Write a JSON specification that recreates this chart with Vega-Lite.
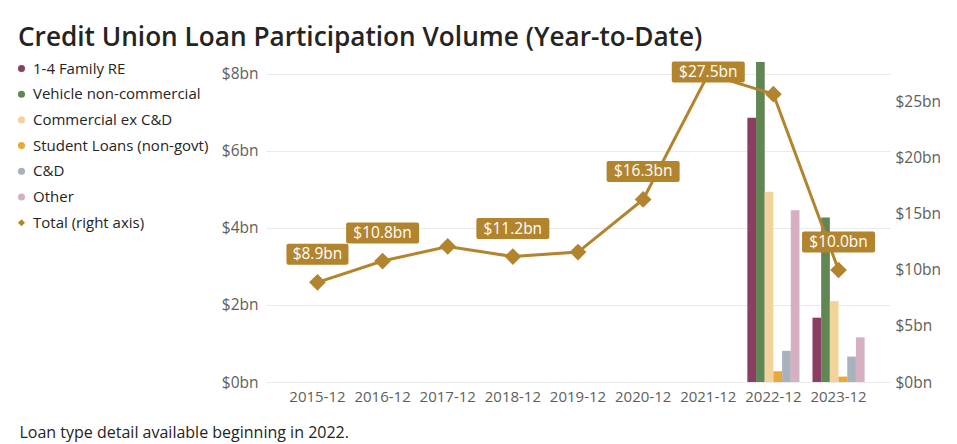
{
  "$schema": "https://vega.github.io/schema/vega-lite/v6.json",
  "width": 624,
  "height": 320,
  "autosize": {"type": "none"},
  "padding": {"left": 266, "top": 62, "right": 67, "bottom": 62},
  "background": "white",
  "title": {
    "text": "Credit Union Loan Participation Volume (Year-to-Date)",
    "anchor": "start",
    "frame": "group",
    "dx": -248,
    "dy": -2,
    "fontSize": 26.2,
    "fontWeight": 600,
    "font": "Open Sans",
    "color": "#252423",
    "offset": 8
  },
  "config": {
    "locale": {
      "number": {"decimal": ".", "thousands": ",", "grouping": [3], "currency": ["$", "bn"]}
    },
    "font": "Open Sans",
    "view": {"stroke": null},
    "axis": {"labelFont": "Open Sans", "labelColor": "#605E5C", "domain": false, "ticks": false}
  },
  "datasets": {
    "detail": [
      {"period": "2022-12", "series": "1-4 Family RE", "value": 6.86},
      {"period": "2022-12", "series": "Vehicle non-commercial", "value": 8.31},
      {"period": "2022-12", "series": "Commercial ex C&D", "value": 4.94},
      {"period": "2022-12", "series": "Student Loans (non-govt)", "value": 0.28},
      {"period": "2022-12", "series": "C&D", "value": 0.81},
      {"period": "2022-12", "series": "Other", "value": 4.46},
      {"period": "2023-12", "series": "1-4 Family RE", "value": 1.67},
      {"period": "2023-12", "series": "Vehicle non-commercial", "value": 4.27},
      {"period": "2023-12", "series": "Commercial ex C&D", "value": 2.1},
      {"period": "2023-12", "series": "Student Loans (non-govt)", "value": 0.14},
      {"period": "2023-12", "series": "C&D", "value": 0.66},
      {"period": "2023-12", "series": "Other", "value": 1.16}
    ],
    "totals": [
      {"period": "2015-12", "series": "Total (right axis)", "total": 8.9},
      {"period": "2016-12", "series": "Total (right axis)", "total": 10.8},
      {"period": "2017-12", "series": "Total (right axis)", "total": 12.1},
      {"period": "2018-12", "series": "Total (right axis)", "total": 11.2},
      {"period": "2019-12", "series": "Total (right axis)", "total": 11.6},
      {"period": "2020-12", "series": "Total (right axis)", "total": 16.3},
      {"period": "2021-12", "series": "Total (right axis)", "total": 27.5},
      {"period": "2022-12", "series": "Total (right axis)", "total": 25.7},
      {"period": "2023-12", "series": "Total (right axis)", "total": 10.0}
    ]
  },
  "encoding": {
    "x": {
      "field": "period",
      "type": "nominal",
      "scale": {
        "domain": ["2015-12", "2016-12", "2017-12", "2018-12", "2019-12", "2020-12", "2021-12", "2022-12", "2023-12"],
        "paddingInner": 0.2,
        "paddingOuter": 0.39
      },
      "axis": {
        "labelAngle": 0,
        "labelFontSize": 15,
        "labelPadding": 7,
        "title": "Loan type detail available beginning in 2022.",
        "titleFont": "Open Sans",
        "titleFontSize": 16,
        "titleFontWeight": "normal",
        "titleColor": "#252423",
        "titleAlign": "left",
        "titleAnchor": null,
        "titleBaseline": "alphabetic",
        "titleX": -247,
        "titleY": 55
      }
    }
  },
  "layer": [
    {
      "data": {"name": "detail"},
      "mark": {"type": "bar"},
      "encoding": {
        "xOffset": {
          "field": "series",
          "type": "nominal",
          "scale": {
            "domain": ["1-4 Family RE", "Vehicle non-commercial", "Commercial ex C&D", "Student Loans (non-govt)", "C&D", "Other"],
            "paddingInner": 0,
            "paddingOuter": 0
          }
        },
        "y": {
          "field": "value",
          "type": "quantitative",
          "scale": {"domain": [0, 8.31], "nice": false, "zero": true},
          "axis": {
            "orient": "left",
            "values": [0, 2, 4, 6, 8],
            "format": "$.0f",
            "labelFontSize": 15.5,
            "labelPadding": 8,
            "title": null,
            "grid": true,
            "gridColor": "#EAEAEA",
            "gridWidth": 1
          }
        },
        "color": {
          "field": "series",
          "type": "nominal",
          "scale": {
            "domain": ["1-4 Family RE", "Vehicle non-commercial", "Commercial ex C&D", "Student Loans (non-govt)", "C&D", "Other", "Total (right axis)"],
            "range": ["#8B3D62", "#5F8653", "#F2D39B", "#E9A83A", "#A8B2BC", "#D5AFC2", "#B3842E"]
          },
          "legend": {
            "orient": "none",
            "legendX": -252,
            "legendY": -1,
            "title": null,
            "labelFont": "Open Sans",
            "labelFontSize": 15,
            "labelColor": "#252423",
            "labelLimit": 300,
            "labelOffset": 4,
            "symbolSize": 50,
            "rowPadding": 9.7
          }
        }
      }
    },
    {
      "data": {"name": "totals"},
      "encoding": {
        "y": {
          "field": "total",
          "type": "quantitative",
          "scale": {"domain": [0, 28.57], "nice": false, "zero": true},
          "axis": {
            "orient": "right",
            "values": [0, 5, 10, 15, 20, 25],
            "format": "$.0f",
            "labelFontSize": 15.5,
            "labelPadding": 5,
            "title": null,
            "grid": false
          }
        }
      },
      "layer": [
        {
          "mark": {"type": "line", "color": "#B3842E", "strokeWidth": 3}
        },
        {
          "mark": {"type": "point", "filled": true, "opacity": 1, "size": 280},
          "encoding": {
            "color": {"field": "series", "type": "nominal"},
            "shape": {
              "field": "series",
              "type": "nominal",
              "scale": {
                "domain": ["1-4 Family RE", "Vehicle non-commercial", "Commercial ex C&D", "Student Loans (non-govt)", "C&D", "Other", "Total (right axis)"],
                "range": ["circle", "circle", "circle", "circle", "circle", "circle", "diamond"]
              }
            }
          }
        },
        {
          "transform": [{"filter": "indexof(['2015-12','2016-12','2018-12','2020-12','2023-12'], datum.period) >= 0"}],
          "mark": {"type": "point", "filled": true, "opacity": 1, "size": 400, "color": "#B3842E", "yOffset": -28},
          "encoding": {
            "shape": {
              "condition": {"test": "datum.total < 10", "value": "M-2.9,-1.05 H2.9 Q3.1,-1.05 3.1,-0.85 V0.85 Q3.1,1.05 2.9,1.05 H-2.9 Q-3.1,1.05 -3.1,0.85 V-0.85 Q-3.1,-1.05 -2.9,-1.05 Z"},
              "value": "M-3.45,-1.05 H3.45 Q3.65,-1.05 3.65,-0.85 V0.85 Q3.65,1.05 3.45,1.05 H-3.45 Q-3.65,1.05 -3.65,0.85 V-0.85 Q-3.65,-1.05 -3.45,-1.05 Z"
            }
          }
        },
        {
          "transform": [{"filter": "datum.period == '2021-12'"}],
          "mark": {"type": "point", "filled": true, "opacity": 1, "size": 400, "color": "#B3842E", "yOffset": -2,
            "shape": "M-3.45,-1.05 H3.45 Q3.65,-1.05 3.65,-0.85 V0.85 Q3.65,1.05 3.45,1.05 H-3.45 Q-3.65,1.05 -3.65,0.85 V-0.85 Q-3.65,-1.05 -3.45,-1.05 Z"}
        },
        {
          "transform": [{"filter": "indexof(['2015-12','2016-12','2018-12','2020-12','2023-12'], datum.period) >= 0"}],
          "mark": {"type": "text", "color": "white", "font": "Open Sans", "fontSize": 15.5, "yOffset": -28, "baseline": "middle"},
          "encoding": {"text": {"field": "total", "type": "quantitative", "format": "$.1f"}}
        },
        {
          "transform": [{"filter": "datum.period == '2021-12'"}],
          "mark": {"type": "text", "color": "white", "font": "Open Sans", "fontSize": 15.5, "yOffset": -2, "baseline": "middle"},
          "encoding": {"text": {"field": "total", "type": "quantitative", "format": "$.1f"}}
        }
      ]
    }
  ],
  "resolve": {"scale": {"y": "independent"}}
}
